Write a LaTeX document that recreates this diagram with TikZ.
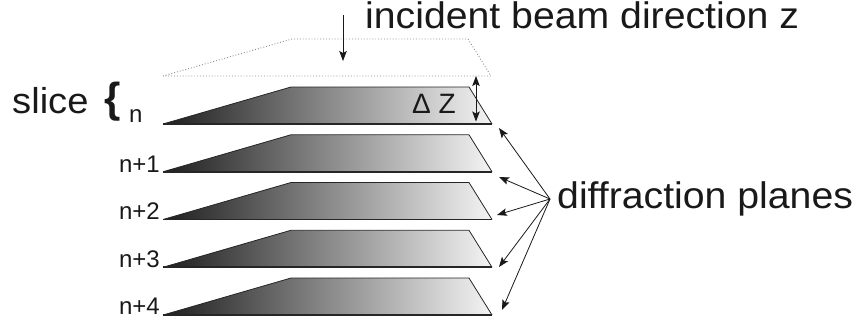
\documentclass[tikz,border=0pt]{standalone}
\usepackage{fontspec}
\setmainfont{Liberation Sans}
\usetikzlibrary{arrows.meta}
\definecolor{platedark}{HTML}{1E1E1E}
\definecolor{platelight}{HTML}{F4F4F4}
\definecolor{dotgray}{HTML}{8A8A8A}
\newcommand{\widetext}[1]{\scalebox{1.06}[1]{#1}}
\tikzset{
  plate/.style={left color=platedark, right color=platelight},
  rim/.style={draw=black!85, line width=0.8pt, line join=round},
  base/.style={draw=black!85, line width=1.6pt},
  pointer/.style={draw=black!90, line width=0.8pt, -{Stealth[length=10pt,width=7.5pt,inset=2pt]}},
  twoway/.style={draw=black!90, line width=0.8pt, {Stealth[length=10pt,width=7.5pt,inset=2pt]}-{Stealth[length=10pt,width=7.5pt,inset=2pt]}},
  bigtext/.style={inner sep=0pt, anchor=base west, font=\fontsize{37}{44}\selectfont, text=black!90},
  idx/.style={inner sep=0pt, font=\fontsize{24}{28}\selectfont, text=black!90}
}
\begin{document}
\begin{tikzpicture}[x=1pt, y=-1pt]
\useasboundingbox (0,0) rectangle (860,322);

% upper (entrance) plane of the slice, dotted
\coordinate (d1) at (163,76);
\coordinate (d2) at (292,39);
\coordinate (d3) at (468,39);
\coordinate (d4) at (491,76);
\draw[dotgray, line width=0.9pt, dotted] (d1) -- (d2) -- (d3) -- (d4) -- cycle;

% the five diffraction planes
\foreach \k in {0,...,4}{
  \pgfmathsetmacro{\b}{124+47.75*\k}
  \coordinate (p\k a) at (163,\b);
  \coordinate (p\k b) at (291,\b-37);
  \coordinate (p\k c) at (469,\b-37);
  \coordinate (p\k d) at (492,\b);
  \shade[plate] (p\k a) -- (p\k b) -- (p\k c) -- (p\k d) -- cycle;
  \draw[rim] (p\k a) -- (p\k b) -- (p\k c) -- (p\k d);
  \draw[base] (p\k a) -- (p\k d);
}

% incident beam
\node[bigtext] (beam) at (365,28) {\widetext{incident beam direction z}};
\coordinate (beamtop) at (343,15);
\coordinate (beamtip) at (343,61);
\draw[pointer] (beamtop) -- (beamtip);

% slice thickness
\coordinate (dz1) at (476,76);
\coordinate (dz2) at (476,121.5);
\draw[twoway] (dz1) -- (dz2);
\node[inner sep=0pt, anchor=base west, font=\fontsize{28}{32}\selectfont, text=black!90] (dz) at (412,113) {Δ Z};

% labels
\node[bigtext, font=\fontsize{36}{44}\selectfont] (slice) at (12,113) {\widetext{slice}};
\node[inner sep=0pt, anchor=base west, font=\fontsize{42}{48}\selectfont\bfseries, text=black!90] (brace) at (104,112) {\{};
\node[idx, anchor=base west] (n0) at (129,122) {n};
\node[idx, anchor=base east] (n1) at (160,172) {n+1};
\node[idx, anchor=base east] (n2) at (160,219) {n+2};
\node[idx, anchor=base east] (n3) at (160,267) {n+3};
\node[idx, anchor=base east] (n4) at (160,314) {n+4};

% fan of pointers to the planes
\node[bigtext] (diff) at (557,208) {\widetext{diffraction planes}};
\coordinate (fan) at (550,199);
\coordinate (t0) at (499,128);
\coordinate (t1) at (499,177);
\coordinate (t2) at (497,215);
\coordinate (t3) at (499,267);
\coordinate (t4) at (502,310);
\foreach \k in {0,...,4}{
  \draw[pointer] (fan) -- (t\k);
}
\end{tikzpicture}
\end{document}
